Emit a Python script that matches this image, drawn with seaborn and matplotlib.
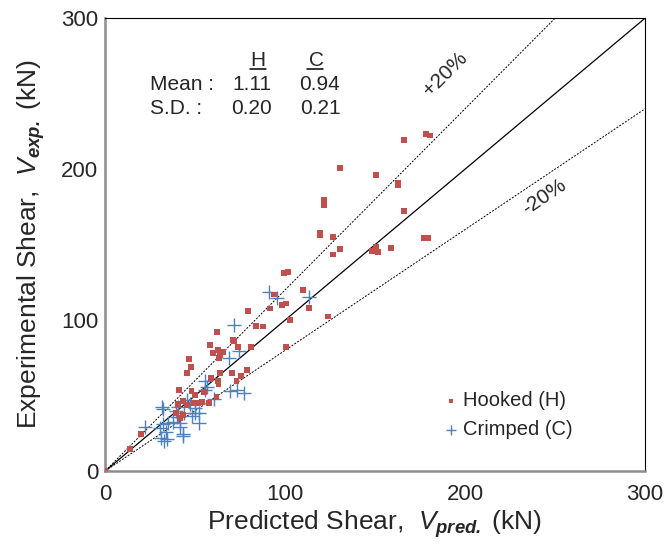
import numpy as np
import pandas as pd
import matplotlib
matplotlib.use("Agg")
import matplotlib.pyplot as plt
import seaborn as sns

# Hooked fibres (H): predicted vs experimental shear (kN)
hooked_pred = [0, 13.7, 20.2, 39.4, 43.5, 41.7, 40.4, 43.5, 45.4, 49.4, 51.9, 53.7, 57.9,
               61.9, 50.2, 55.0, 48.0, 40.9, 62.6, 63.0, 58.7, 73.0, 75.4, 70.6, 63.7, 79.1,
               45.4, 47.8, 46.8, 59.8, 62.6, 65.4, 63.9, 63.5, 73.7, 81.1, 58.3, 71.3, 71.8,
               62.2, 83.9, 87.6, 79.4, 91.7, 98.3, 100.6, 102.9, 113.5, 123.9, 100.7, 94.1,
               110.0, 99.4, 101.7, 126.8, 130.4, 126.5, 119.3, 119.3, 121.5, 121.5, 130.4,
               148.1, 150.7, 151.5, 158.9, 176.9, 179.3, 166.3, 162.8, 162.8, 150.7, 166.3,
               178.2, 180.6]
hooked_exp = [0, 14.8, 24.3, 38.3, 37.2, 35.0, 44.5, 46.6, 43.8, 44.9, 44.9, 46.0, 44.9,
              49.1, 50.4, 52.2, 53.1, 53.7, 59.9, 57.5, 61.9, 59.7, 63.2, 65.0, 65.2, 67.0,
              65.2, 68.8, 74.1, 78.5, 80.1, 78.8, 77.0, 75.2, 82.1, 82.3, 83.4, 86.7, 86.0,
              92.0, 96.0, 95.8, 106.2, 107.7, 110.0, 111.0, 100.2, 108.2, 102.4, 82.3, 117.0,
              119.9, 131.4, 131.8, 143.5, 147.3, 154.8, 157.7, 156.6, 179.8, 176.0, 201.0,
              146.0, 148.2, 145.3, 148.0, 154.2, 154.2, 172.5, 190.7, 189.3, 196.2, 219.2,
              223.0, 222.3]

# Crimped fibres (C)
crimped_pred = [0, 22.0, 30.6, 31.1, 34.3, 33.0, 33.9, 43.2, 43.5, 32.4, 35.2, 37.6, 41.7,
                41.8, 52.0, 40.2, 48.1, 43.9, 50.0, 52.4, 50.0, 39.4, 40.7, 31.7, 32.4, 45.7,
                47.2, 60.6, 55.6, 56.5, 55.7, 69.6, 73.3, 77.1, 69.1, 74.6, 71.5, 90.9, 95.7,
                113.5]
crimped_exp = [0, 29.0, 28.3, 21.7, 21.0, 20.1, 26.1, 24.3, 23.4, 31.0, 31.6, 32.7, 31.6,
               29.4, 31.6, 36.0, 36.5, 38.7, 38.3, 38.3, 41.6, 40.0, 42.7, 42.7, 40.9, 47.1,
               44.5, 47.8, 53.7, 55.9, 59.9, 52.9, 53.5, 51.6, 75.2, 79.8, 96.7, 118.8, 114.8,
               115.5]

ticks = [0, 100, 200, 300]
stats_rows = ["Mean :", "S.D. :"]
stats_h = ["1.11", "0.20"]
stats_c = ["0.94", "0.21"]

sns.set_style("white")
plt.rcParams['font.family'] = ['Liberation Sans', 'DejaVu Sans']
plt.rcParams['mathtext.fontset'] = 'custom'
plt.rcParams['mathtext.rm'] = 'Liberation Sans'
plt.rcParams['mathtext.it'] = 'Liberation Sans:italic'
plt.rcParams['mathtext.bf'] = 'Liberation Sans:bold:italic'

df_h = pd.DataFrame({'pred': hooked_pred, 'exp': hooked_exp})
df_c = pd.DataFrame({'pred': crimped_pred, 'exp': crimped_exp})

fig = plt.figure(figsize=(6.65, 5.51), dpi=100)
ax = fig.add_axes([0.158, 0.145, 0.812, 0.822])

# reference lines: 1:1 and +/-20%
xx = np.array([0, 300])
ax.plot(xx, xx, color='black', lw=0.9, zorder=1)
ax.plot(xx, 1.2 * xx, color='black', lw=0.7, ls=(0, (2, 1.5)), zorder=1)
ax.plot(xx, 0.8 * xx, color='black', lw=0.7, ls=(0, (2, 1.5)), zorder=1)

sns.scatterplot(data=df_h, x='pred', y='exp', marker='s', s=18, color='#C0504D',
                edgecolor='none', label='Hooked (H)', ax=ax, zorder=3)
sns.scatterplot(data=df_c, x='pred', y='exp', marker='+', s=90, color='#4F81BD',
                linewidth=1.0, label='Crimped (C)', ax=ax, zorder=2)

ax.set_xlim(0, 300)
ax.set_ylim(0, 300)
ax.set_xticks(ticks)
ax.set_yticks(ticks)
ax.tick_params(labelsize=16, length=0)
ax.tick_params(axis='y', pad=5)
ax.tick_params(axis='x', pad=9)
ax.set_xlabel(r"Predicted Shear,  $\mathit{V}_{\mathbf{pred.}}$ (kN)", fontsize=19, labelpad=3)
ax.set_ylabel(r"Experimental Shear,  $\mathit{V}_{\mathbf{exp.}}$ (kN)", fontsize=19, labelpad=10)

for side in ['top', 'right']:
    ax.spines[side].set_color('black')
    ax.spines[side].set_linewidth(0.8)
for side in ['left', 'bottom']:
    ax.spines[side].set_color('#8c8c8c')
    ax.spines[side].set_linewidth(1.8)

# stats box (H / C header underlined)
ax.text(85, 268.3, "H", fontsize=15, ha='center', va='baseline')
ax.text(117.2, 268.3, "C", fontsize=15, ha='center', va='baseline')
ax.plot([80.5, 89.4], [266.6, 266.6], color='black', lw=1.1)
ax.plot([112.2, 121.1], [266.6, 266.6], color='black', lw=1.1)
for i, lab in enumerate(stats_rows):
    yy = 252.4 - i * 15.8
    ax.text(25, yy, lab, fontsize=15, ha='left', va='baseline')
    ax.text(81.5, yy, stats_h[i], fontsize=15, ha='center', va='baseline')
    ax.text(119.4, yy, stats_c[i], fontsize=15, ha='center', va='baseline')

ax.text(189, 263, "+20%", fontsize=15, rotation=45, ha='center', va='center')
ax.text(244, 182, "-20%", fontsize=15, rotation=34, ha='center', va='center')

ax.legend(loc='lower right', bbox_to_anchor=(0.90, 0.03), frameon=False, fontsize=14.5,
          handletextpad=0.0, labelspacing=0.5, markerscale=0.75, handlelength=1.2)

fig.savefig("out.png", dpi=100)
